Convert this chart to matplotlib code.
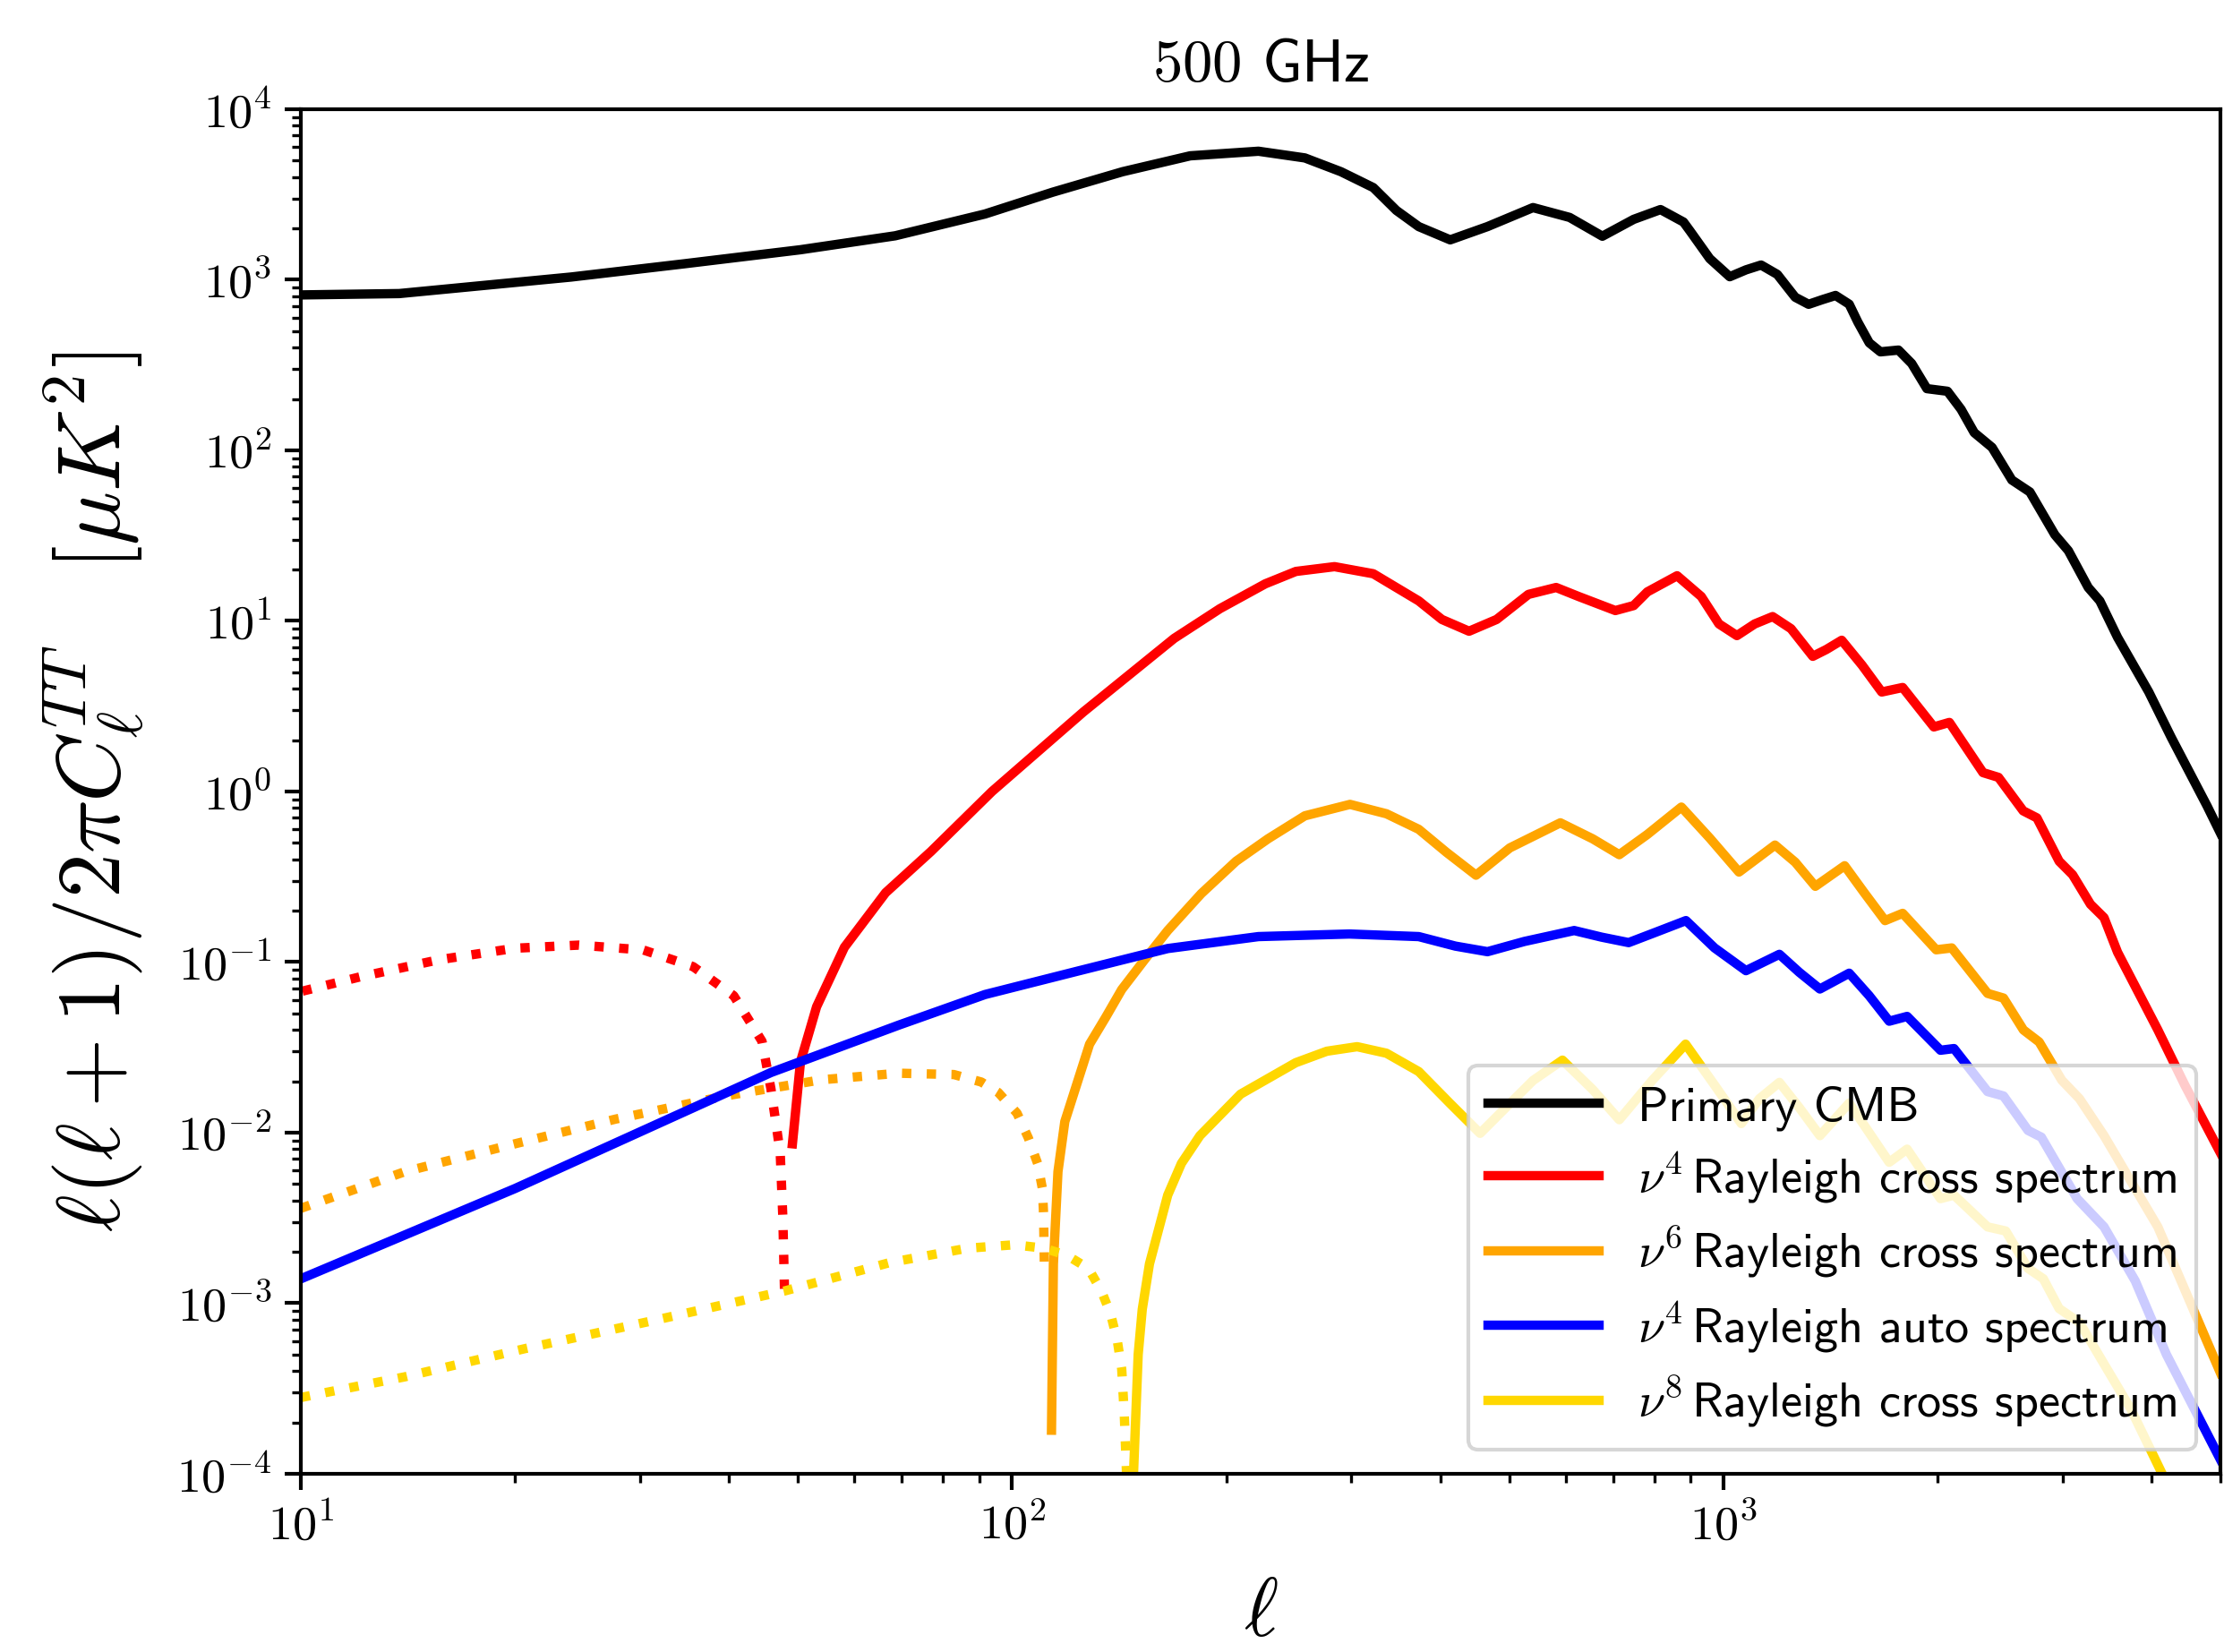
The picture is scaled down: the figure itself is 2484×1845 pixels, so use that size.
import math
import matplotlib
matplotlib.use('Agg')
import matplotlib.pyplot as plt
from matplotlib.ticker import FuncFormatter, NullFormatter, LogLocator

plt.rcParams['mathtext.fontset'] = 'cm'
plt.rcParams['font.family'] = ['cmss10', 'DejaVu Sans']
plt.rcParams['axes.unicode_minus'] = False

# Primary CMB
ell_cmb = [10, 13.75, 24, 34.6, 50.4, 68.5, 91.6, 114, 143, 178, 222, 258, 290, 322, 347, 373, 413, 466,
           540, 608, 676, 748, 816, 879, 898, 957, 1021, 1076, 1130, 1191, 1225, 1262, 1318, 1377, 1438,
           1503, 1546, 1604, 1663, 1763, 1840, 1933, 2066, 2159, 2253, 2387, 2545, 2698, 2925, 3056, 3259,
           3384, 3584, 3965, 4265, 4790, 5000]
cl_cmb = [815, 830, 1038, 1241, 1500, 1811, 2430, 3260, 4300, 5330, 5670, 5180, 4300, 3470, 2550, 2050,
          1714, 2050, 2650, 2320, 1800, 2260, 2580, 2180, 1930, 1330, 1042, 1143, 1220, 1075, 925, 790, 718,
          764, 809, 719, 564, 427, 378, 387, 323, 230, 222, 174, 127, 104, 67, 57, 32, 25.8, 15.7, 13.1, 8.0,
          3.83, 2.07, 0.82, 0.57]

# nu^4 cross spectrum (positive part solid, |negative part| dotted)
ell_r4 = [49.1, 50.4, 53.1, 58.1, 66.4, 76.9, 93.7, 126, 169, 196, 227, 250.6, 284, 322, 373, 402, 439,
          480, 532, 582, 626, 705, 748, 782, 861, 931, 986, 1045, 1107, 1173, 1245, 1336, 1396, 1467, 1567,
          1670, 1787, 1977, 2079, 2318, 2437, 2640, 2760, 2966, 3098, 3283, 3430, 3584, 4083, 4455, 5000]
cl_r4 = [0.0086, 0.026, 0.0547, 0.122, 0.255, 0.445, 1.0, 2.93, 7.9, 11.8, 16.5, 19.5, 20.8, 18.9, 13.1,
         10.2, 8.7, 10.2, 14.3, 15.7, 13.9, 11.5, 12.3, 14.8, 18.4, 13.9, 9.6, 8.2, 9.6, 10.6, 9.0, 6.2, 6.8,
         7.7, 5.5, 3.83, 4.07, 2.39, 2.54, 1.29, 1.21, 0.77, 0.70, 0.39, 0.325, 0.218, 0.182, 0.114, 0.040,
         0.019, 0.0076]
ell_r4_neg = [10.05, 12.1, 15.6, 20.0, 24.6, 30.3, 35.6, 40.6, 44.5, 45.8, 47.2, 47.6, 47.9]
cl_r4_neg = [0.0675, 0.0818, 0.103, 0.1205, 0.1257, 0.1177, 0.094, 0.0635, 0.0343, 0.0181, 0.0076,
             0.0032, 0.00102]

# nu^6 cross spectrum
ell_r6 = [113.6, 114.3, 116, 118.6, 128.5, 135.5, 142.6, 153.5, 165.5, 184.5, 206.5, 229, 258, 298.6,
          336, 373, 408, 449, 501, 590, 655, 714, 782, 873, 957, 1052, 1182, 1262, 1347, 1481, 1578, 1688,
          1787, 1992, 2095, 2353, 2477, 2642, 2780, 2991, 3168, 3430, 3740, 4083, 4455, 5000]
cl_r6 = [0.00018, 0.0017, 0.0059, 0.0116, 0.033, 0.0477, 0.069, 0.103, 0.153, 0.252, 0.39, 0.528, 0.72,
         0.84, 0.74, 0.60, 0.44, 0.323, 0.467, 0.655, 0.528, 0.426, 0.56, 0.81, 0.533, 0.337, 0.485, 0.385,
         0.278, 0.367, 0.255, 0.175, 0.193, 0.118, 0.121, 0.0655, 0.0615, 0.040, 0.034, 0.0203, 0.0158,
         0.0096, 0.0052, 0.0028, 0.0012, 0.00039]
ell_r6_neg = [10, 14.0, 20.0, 27.7, 39.5, 53.9, 69.3, 82.8, 90.5, 95.6, 101.6, 105.4, 108.6, 110.3,
              110.7, 111]
cl_r6_neg = [0.0036, 0.0059, 0.0086, 0.012, 0.0164, 0.0204, 0.0223, 0.0219, 0.0198, 0.0172, 0.013,
             0.0093, 0.0066, 0.0047, 0.0034, 0.0017]

# nu^4 auto spectrum
ell_auto = [10, 20, 45.8, 69.3, 91.6, 123, 165.5, 222, 298, 373, 420, 466, 525, 617, 674, 736, 805, 886,
            972, 1076, 1199, 1279, 1367, 1503, 1603, 1711, 1813, 2020, 2110, 2353, 2477, 2682, 2800, 3144,
            3430, 3795, 4198, 5000]
cl_auto = [0.00139, 0.0047, 0.0225, 0.0427, 0.0645, 0.088, 0.12, 0.141, 0.146, 0.141, 0.124, 0.115,
           0.132, 0.153, 0.140, 0.130, 0.150, 0.175, 0.121, 0.089, 0.111, 0.087, 0.0695, 0.086, 0.0636,
           0.045, 0.048, 0.0304, 0.0311, 0.0174, 0.0164, 0.0103, 0.0094, 0.0041, 0.0028, 0.00135, 0.0005,
           0.000121]

# nu^8 cross spectrum
ell_r8 = [148, 150.4, 152.4, 156, 165.5, 173, 183.7, 209.5, 250.5, 277, 305.6, 336, 373, 413, 455, 501,
          540, 594, 655, 714, 794, 885, 972, 1060, 1124, 1199, 1279, 1367, 1503, 1711, 1813, 2020, 2110,
          2353, 2495, 2682, 2818, 2966, 3168, 3430, 3740, 4140, 4300]
cl_r8 = [9e-5, 0.0005, 0.00092, 0.0017, 0.0043, 0.0066, 0.0096, 0.0168, 0.0257, 0.030, 0.0319, 0.0292,
         0.0228, 0.0148, 0.0099, 0.0148, 0.0202, 0.0266, 0.0179, 0.0119, 0.0202, 0.033, 0.019, 0.0113,
         0.0158, 0.0197, 0.014, 0.0096, 0.0149, 0.0067, 0.0080, 0.0041, 0.0043, 0.0028, 0.00265, 0.0016,
         0.00139, 0.00093, 0.00077, 0.00044, 0.00024, 0.0001, 0.00007]
ell_r8_neg = [10, 14.0, 20.6, 31.7, 47.9, 67.3, 86.5, 100.7, 111, 119.6, 128, 133.5, 137.5, 140.6,
              142.6, 143.8, 144.9]
cl_r8_neg = [0.00028, 0.00037, 0.00054, 0.0008, 0.00118, 0.00173, 0.0021, 0.0022, 0.0021, 0.0019,
             0.0016, 0.00118, 0.00087, 0.0006, 0.00041, 0.00022, 9.5e-5]

lw = 2.5
fig = plt.figure(figsize=(8.28, 6.15), dpi=300)
ax = fig.add_axes([0.1353, 0.1079, 0.8631, 0.826])

ax.plot(ell_cmb, cl_cmb, color='black', lw=lw, label=r'Primary CMB')
ax.plot(ell_r4, cl_r4, color='red', lw=lw, label=r'$\nu^4\,$Rayleigh cross spectrum')
ax.plot(ell_r4_neg, cl_r4_neg, color='red', lw=lw, ls=':')
ax.plot(ell_r6, cl_r6, color='orange', lw=lw, label=r'$\nu^6\,$Rayleigh cross spectrum')
ax.plot(ell_r6_neg, cl_r6_neg, color='orange', lw=lw, ls=':')
ax.plot(ell_auto, cl_auto, color='blue', lw=lw, label=r'$\nu^4\,$Rayleigh auto spectrum')
ax.plot(ell_r8, cl_r8, color='gold', lw=lw, label=r'$\nu^8\,$Rayleigh cross spectrum')
ax.plot(ell_r8_neg, cl_r8_neg, color='gold', lw=lw, ls=':')

ax.set_xscale('log')
ax.set_yscale('log')
ax.set_xlim(10, 5000)
ax.set_ylim(1e-4, 1e4)

fmt = FuncFormatter(lambda v, pos: r'$10^{%d}$' % round(math.log10(v)))
ax.xaxis.set_major_formatter(fmt)
ax.yaxis.set_major_formatter(fmt)
ax.xaxis.set_minor_formatter(NullFormatter())
ax.yaxis.set_minor_formatter(NullFormatter())
ax.yaxis.set_major_locator(LogLocator(base=10, numticks=20))
ax.yaxis.set_minor_locator(LogLocator(base=10, subs=range(2, 10), numticks=20))
ax.tick_params(which='major', length=4.4, width=1.0, labelsize=13)
ax.tick_params(which='minor', length=2.4, width=0.8)
for s in ax.spines.values():
    s.set_linewidth(1.0)

ax.set_xlabel(r'$\ell$', fontsize=22, labelpad=8)
ax.set_ylabel(r'$\ell(\ell+1)/2\pi C_\ell^{TT} \quad [\mu K^2]$', fontsize=24, labelpad=8)
ax.set_title(r'$500$ GHz', fontsize=16, pad=7.5)

ax.legend(loc='lower right', fontsize=13, handlelength=2.3, labelspacing=0.4)

fig.savefig('out.png', dpi=300)
